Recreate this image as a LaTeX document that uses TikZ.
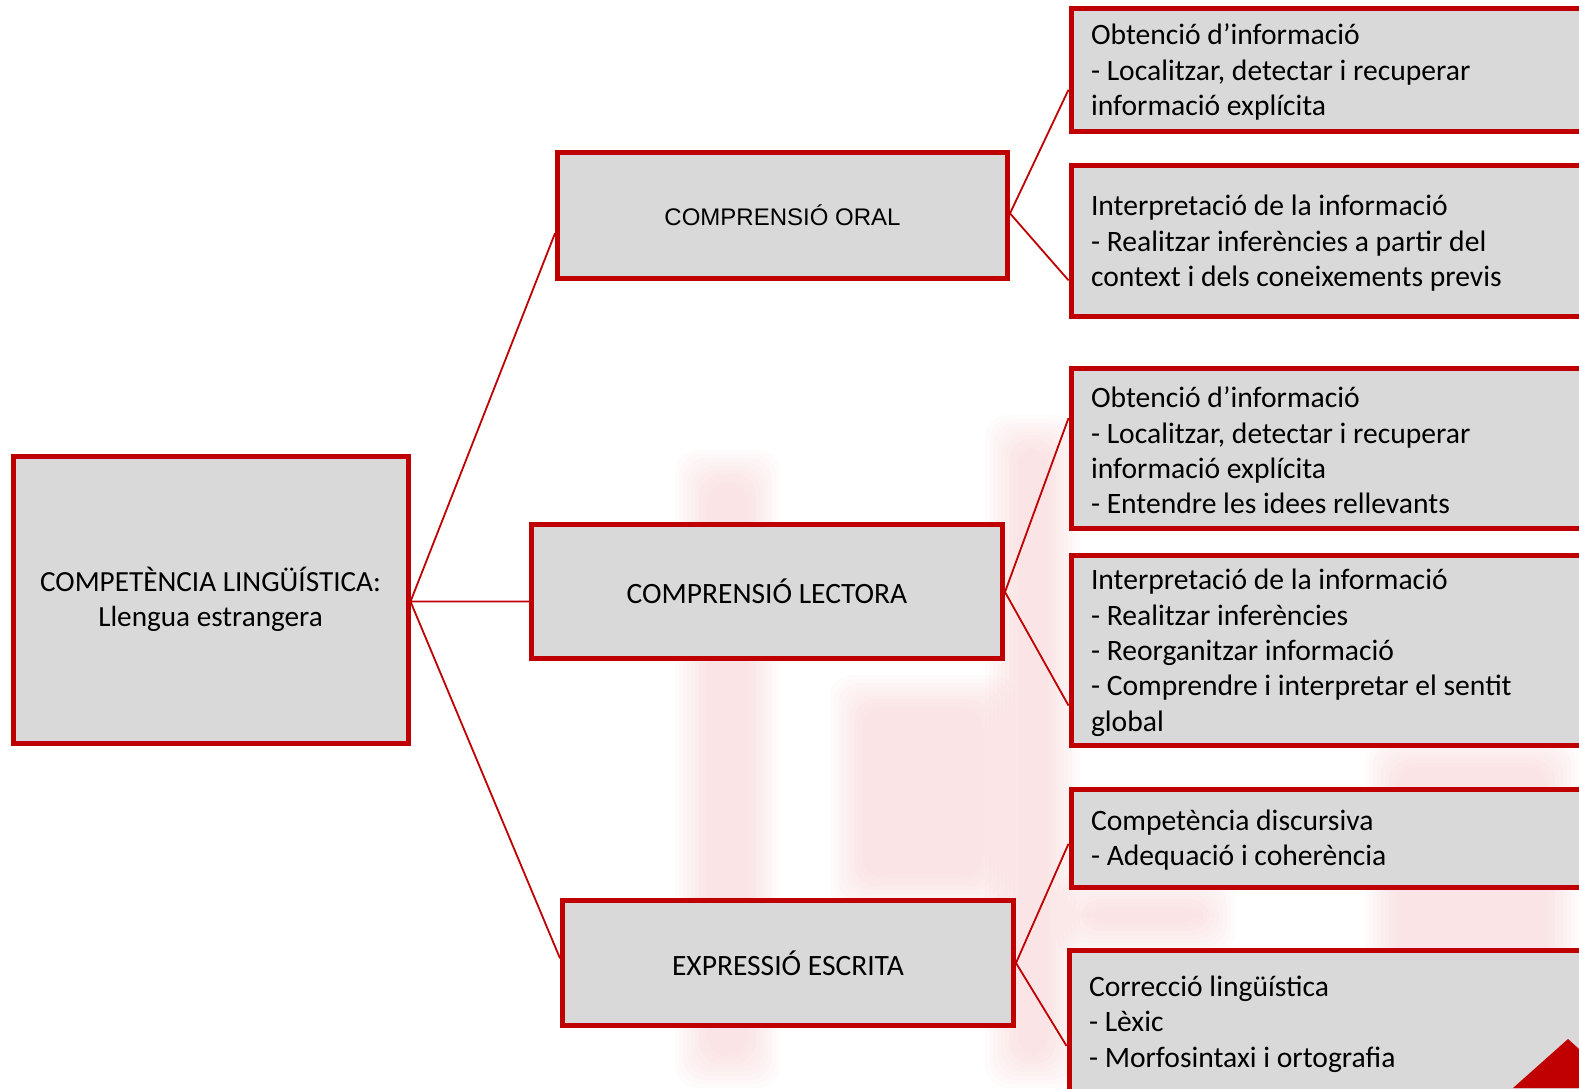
\documentclass[tikz,border=0pt]{standalone}
\usepackage{fontspec}
\setmainfont{Carlito}
\newfontfamily\arialfont{Liberation Sans}
\usetikzlibrary{calc}
\definecolor{boxred}{HTML}{C00000}
\definecolor{boxgray}{HTML}{D9D9D9}
\definecolor{wmpink}{HTML}{F3B8BA}
\newcommand{\softblob}[4]{%
  \foreach \k in {0,...,8}{%
    \fill[wmpink, opacity=0.05, rounded corners=22pt]
      ({#1+\k*4},{#2+\k*4}) rectangle ({#3-\k*4},{#4-\k*4});
  }}
\tikzset{
  mainbox/.style={draw=boxred, line width=5pt, fill=boxgray, inner sep=0pt, align=center,
     execute at begin node={\spaceskip=0pt\xspaceskip=0pt\relax}},
  leafbox/.style={draw=boxred, line width=5pt, fill=boxgray, inner xsep=20pt, inner ysep=0pt,
     align=left, text width=515pt, minimum width=555pt, font=\fontsize{29.6}{35.3}\selectfont,
     execute at begin node={\spaceskip=0pt\xspaceskip=0pt\relax\rule{0pt}{25pt}}},
  link/.style={draw=boxred, line width=1.8pt},
}
\begin{document}
\begin{tikzpicture}[x=1pt,y=-1pt]
\useasboundingbox (0,0) rectangle (1579,1088);
\clip (0,0) rectangle (1579,1088);
% faint watermark colour areas
\softblob{675}{450}{780}{1088}
\softblob{830}{675}{1015}{910}
\softblob{985}{415}{1080}{1088}
\softblob{1365}{735}{1579}{1015}
\softblob{1055}{875}{1235}{955}

% main boxes
\node[mainbox, minimum width=395pt, minimum height=287pt, font=\fontsize{29.2}{35}\selectfont] (root) at (210.5,599.5)
  {COMPETÈNCIA LINGÜÍSTICA:\\Llengua estrangera};
\node[mainbox, minimum width=450pt, minimum height=126pt, font=\arialfont\fontsize{24}{30}\selectfont] (co) at (782.5,215.5)
  {COMPRENSIÓ ORAL};
\node[mainbox, minimum width=471pt, minimum height=134pt, font=\fontsize{29.5}{34}\selectfont] (cl) at (767,591.5)
  {COMPRENSIÓ LECTORA};
\node[mainbox, minimum width=451pt, minimum height=125pt, font=\fontsize{29.5}{34}\selectfont] (ee) at (788,963)
  {EXPRESSIÓ ESCRITA};

% leaf boxes
\node[leafbox, minimum height=123pt, anchor=west] (b1) at (1068.5,70)
  {Obtenció d’informació\\- Localitzar, detectar i recuperar\\informació explícita};
\node[leafbox, minimum height=151pt, anchor=west] (b2) at (1068.5,241)
  {Interpretació de la informació\\- Realitzar inferències a partir del\\context i dels coneixements previs};
\node[leafbox, minimum height=160pt, anchor=west] (b3) at (1068.5,448.5)
  {Obtenció d’informació\\- Localitzar, detectar i recuperar\\informació explícita\\- Entendre les idees rellevants};
\node[leafbox, minimum height=190pt, anchor=west] (b4) at (1068.5,650.5)
  {Interpretació de la informació\\- Realitzar inferències\\- Reorganitzar informació\\- Comprendre i interpretar el sentit\\global};
\node[leafbox, minimum height=98pt, anchor=west] (b5) at (1068.5,838)
  {Competència discursiva\\- Adequació i coherència};
\node[leafbox, minimum height=143pt, anchor=west, inner xsep=19pt] (b6) at (1066.5,1022)
  {Correcció lingüística\\- Lèxic\\- Morfosintaxi i ortografia};

% connectors
\draw[link] ($(root.north east)!0.507!(root.south east)$) -- ($(co.north west)!0.636!(co.south west)$);
\draw[link] ($(root.north east)!0.507!(root.south east)$) -- ($(cl.north west)!0.572!(cl.south west)$);
\draw[link] ($(root.north east)!0.507!(root.south east)$) -- ($(ee.north west)!0.464!(ee.south west)$);
\draw[link] ($(co.north east)!0.484!(co.south east)$) -- ($(b1.north west)!0.654!(b1.south west)$);
\draw[link] ($(co.north east)!0.484!(co.south east)$) -- ($(b2.north west)!0.752!(b2.south west)$);
\draw[link] ($(cl.north east)!0.504!(cl.south east)$) -- ($(b3.north west)!0.316!(b3.south west)$);
\draw[link] ($(cl.north east)!0.504!(cl.south east)$) -- ($(b4.north west)!0.782!(b4.south west)$);
\draw[link] ($(ee.north east)!0.5!(ee.south east)$) -- ($(b5.north west)!0.556!(b5.south west)$);
\draw[link] ($(ee.north east)!0.5!(ee.south east)$) -- ($(b6.north west)!0.661!(b6.south west)$);

% corner decoration
\fill[boxred] (1513,1088) -- (1568,1039) -- (1579,1049) -- (1579,1088) -- cycle;
\end{tikzpicture}
\end{document}
